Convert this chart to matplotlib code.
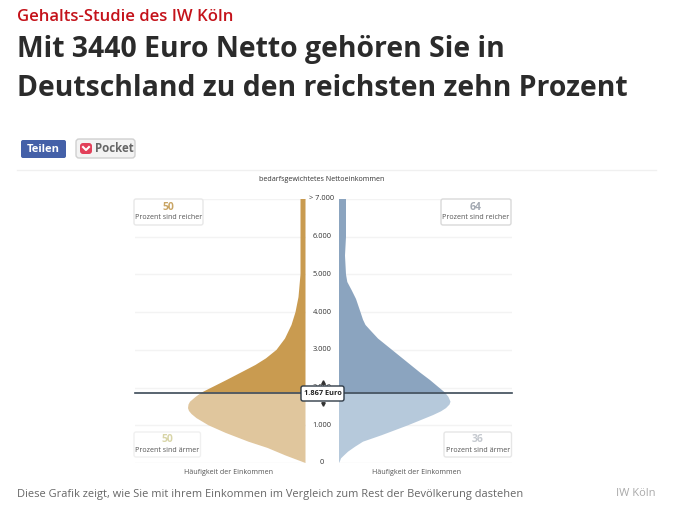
import matplotlib
matplotlib.use("Agg")
import matplotlib.pyplot as plt
from matplotlib.patches import FancyBboxPatch, Polygon

plt.rcParams["font.family"] = ["Open Sans", "DejaVu Sans"]

# income levels (Euro) and width of the distribution on both sides
income_left = [0, 100, 200, 300, 400, 565, 800, 1000, 1190, 1300, 1380, 1455, 1550, 1625, 1750, 1867,
               2000, 2200, 2420, 2600, 2775, 3000, 3300, 3660, 4000, 4400, 5000, 6000, 7000]
freq_left = [0, 10, 20, 29, 38, 57, 80, 97, 109, 114, 116.5, 117.5, 117, 115.5, 110, 104,
             94, 79, 63, 50, 39.5, 29, 20.5, 14, 10, 7, 5, 5, 5]
income_right = [0, 50, 123, 200, 300, 430, 565, 740, 1000, 1270, 1370, 1455, 1550, 1625, 1750, 1867,
                2000, 2200, 2400, 2700, 3000, 3300, 3500, 3660, 3800, 4000, 4350, 4580, 4800, 5000, 5500, 6000, 7000]
freq_right = [0, 1, 2, 5, 9, 16, 24, 43, 69, 94, 102, 107, 110.5, 111.5, 109.5, 106,
              100, 91, 81, 67, 53, 39, 32, 26.5, 24, 21.5, 17, 12.7, 8.3, 7, 6, 7, 7]

median = 1867
y_ticks = [0, 1000, 2000, 3000, 4000, 5000, 6000, 7000]
y_labels = ["0", "1.000", "2.000", "3.000", "4.000", "5.000", "6.000", "> 7.000"]

GOLD_DARK = "#c99b50"
GOLD_LIGHT = "#e0c69d"
BLUE_DARK = "#8ba4bf"
BLUE_LIGHT = "#b6c9db"
W, H = 680, 525

fig = plt.figure(figsize=(6.8, 5.25), dpi=100, facecolor="white")


def to_fig(left, top, right, bottom):
    return [left / W, 1 - bottom / H, (right - left) / W, (bottom - top) / H]


# overlay in pixel coordinates for page furniture
page = fig.add_axes([0, 0, 1, 1], zorder=5)
page.set_xlim(0, W)
page.set_ylim(H, 0)
page.axis("off")
page.patch.set_alpha(0)

page.text(17, 17, "Gehalts-Studie des IW Köln", color="#c4121a", fontsize=12, fontweight="semibold", va="center")
page.text(17, 50, "Mit 3440 Euro Netto gehören Sie in", color="#2b2b2b", fontsize=20.43, fontweight="bold", va="center")
page.text(17, 88, "Deutschland zu den reichsten zehn Prozent", color="#2b2b2b", fontsize=20.43, fontweight="bold", va="center")

# share buttons
page.add_patch(FancyBboxPatch((21, 140), 45, 18, boxstyle="round,pad=0,rounding_size=2", fc="#4460a8", ec="none"))
page.text(43.5, 149, "Teilen", color="white", fontsize=8, fontweight="bold", ha="center", va="center")
page.add_patch(FancyBboxPatch((76, 139), 59, 19, boxstyle="round,pad=0,rounding_size=3", fc="#f3f3f3", ec="#d0d0d0", lw=1))
page.add_patch(FancyBboxPatch((80, 143), 12, 11, boxstyle="round,pad=0,rounding_size=3", fc="#e2405a", ec="none"))
page.plot([83, 86, 89], [147, 150, 147], color="white", lw=1.5)
page.text(95, 149, "Pocket", color="#666666", fontsize=8.3, fontweight="bold", va="center")
page.plot([17, 656], [169.5, 169.5], color="#f0f0f0", lw=1)

# left and right half of the chart
ax_left = fig.add_axes(to_fig(135, 199, 305.5, 463))
ax_right = fig.add_axes(to_fig(339, 199, 512, 463))
ax_left.set_xlim(170.5, 0)
ax_right.set_xlim(0, 173)

for ax, income, freq, dark, light in [
    (ax_left, income_left, freq_left, GOLD_DARK, GOLD_LIGHT),
    (ax_right, income_right, freq_right, BLUE_DARK, BLUE_LIGHT),
]:
    ax.set_ylim(0, 7000)
    ax.axis("off")
    for tick in y_ticks:
        ax.axhline(tick, color="#f3f3f3", lw=1, zorder=1)
    split = income.index(median)
    lower = list(zip(freq[:split + 1], income[:split + 1]))
    upper = list(zip(freq[split:], income[split:]))
    ax.add_patch(Polygon([(0, 0)] + lower + [(0, median)], fc=light, ec="none", zorder=2))
    ax.add_patch(Polygon([(0, median)] + upper + [(0, 7000)], fc=dark, ec="none", zorder=2))

# y labels between the two halves
for tick, label in zip(y_ticks, y_labels):
    y_px = 463 - tick * 264 / 7000
    page.text(322, y_px, label, color="#333333", fontsize=5.3, ha="center", va="center")

page.text(322, 179.5, "bedarfsgewichtetes Nettoeinkommen", color="#333333", fontsize=5.1, ha="center", va="center", fontweight="medium")
page.text(228, 472, "Häufigkeit der Einkommen", color="#555555", fontsize=5.1, ha="center", va="center")
page.text(417, 472, "Häufigkeit der Einkommen", color="#555555", fontsize=5.1, ha="center", va="center")

# median line and label
median_px = 463 - median * 264 / 7000
page.plot([135, 512], [median_px, median_px], color="#3c4a58", lw=1.2, zorder=3)
page.add_patch(FancyBboxPatch((301, 386), 43, 15, boxstyle="round,pad=0,rounding_size=2", fc="white", ec="#2f3b47", lw=1, zorder=4))
page.text(322.5, 393.5, "1.867 Euro", color="#222222", fontsize=5.3, fontweight="bold", ha="center", va="center", zorder=5)
page.plot([322.5], [381.5], marker="^", ms=2.5, color="#333333", zorder=4)
page.plot([322.5], [404], marker="v", ms=2.5, color="#333333", zorder=4)

# the four info boxes
boxes = [
    (134, 199, 203, 225, "50", "Prozent sind reicher", "#c9a565", "#e8e8e8"),
    (441, 199, 511, 225, "64", "Prozent sind reicher", "#a3a9b2", "#d9d9d9"),
    (134, 432, 200.5, 457, "50", "Prozent sind ärmer", "#d8d5a8", "#f0f0f0"),
    (444, 432, 511.5, 457, "36", "Prozent sind ärmer", "#c5c9cf", "#e6e6e6"),
]
for x0, y0, x1, y1, number, text, color, edge in boxes:
    page.add_patch(FancyBboxPatch((x0, y0), x1 - x0, y1 - y0, boxstyle="round,pad=0,rounding_size=2", fc="white", ec=edge, lw=1))
    page.text((x0 + x1) / 2, y0 + 8, number, color=color, fontsize=7.5, fontweight="bold", ha="center", va="center")
    page.text((x0 + x1) / 2, y0 + 18.5, text, color="#555555", fontsize=5.1, ha="center", va="center")

page.text(17, 494, "Diese Grafik zeigt, wie Sie mit ihrem Einkommen im Vergleich zum Rest der Bevölkerung dastehen", color="#666666", fontsize=7.95, va="center")
page.text(656, 494, "IW Köln", color="#aaaaaa", fontsize=8, ha="right", va="center")

plt.savefig("out.png", dpi=100)
